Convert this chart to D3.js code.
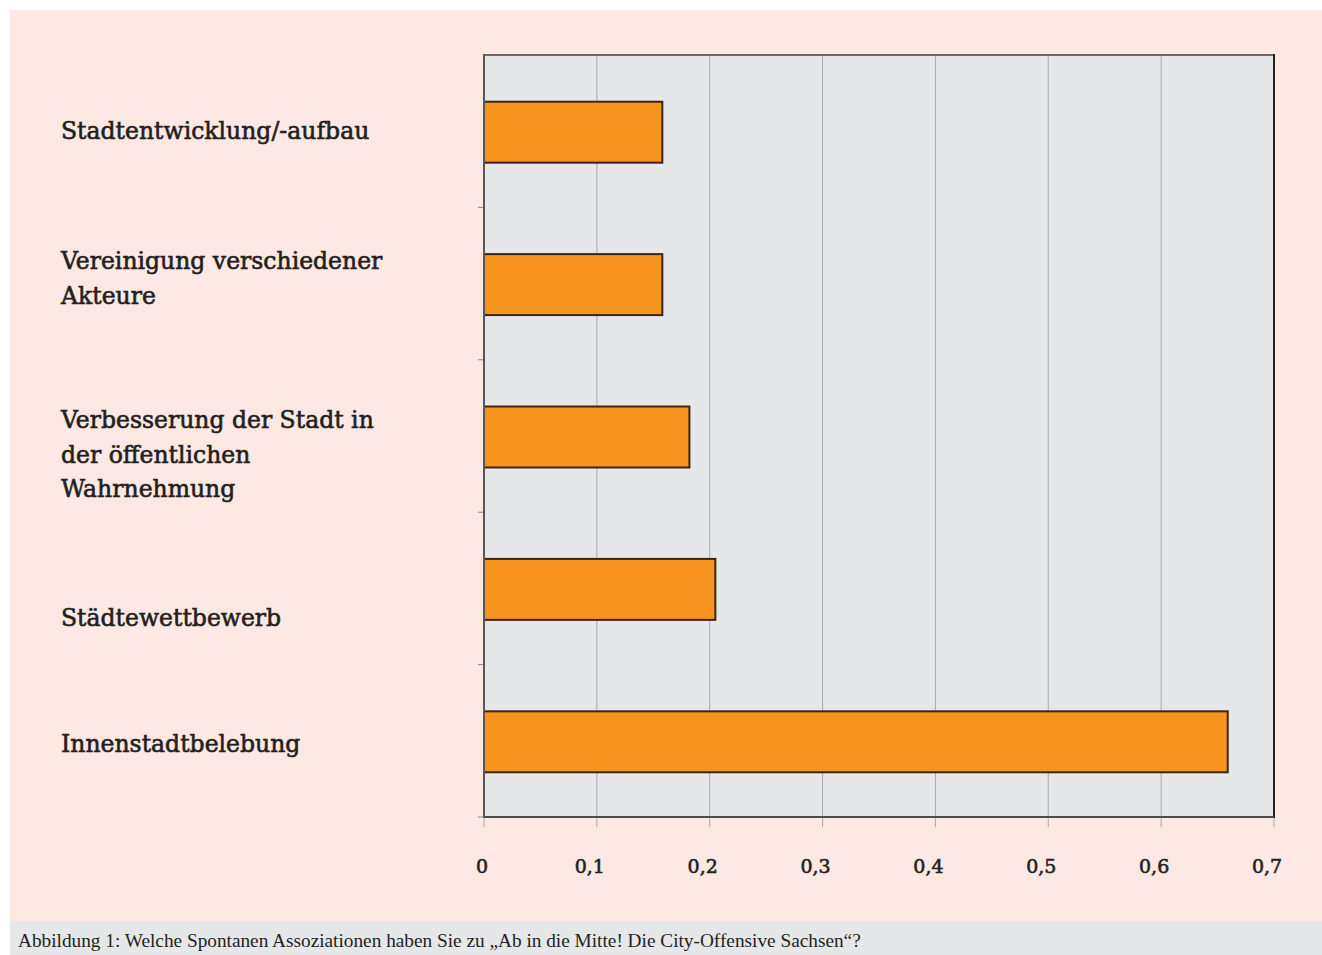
<!DOCTYPE html>
<html><head><meta charset="utf-8">
<script src="https://cdn.jsdelivr.net/npm/d3@7"></script>
<style>
html,body{margin:0;padding:0;background:#fff;}
svg{display:block;}
</style></head>
<body>
<svg id="chart" width="1322" height="955"></svg>
<script>
// ---- data ----
const categories = [
  "Stadtentwicklung/-aufbau",
  "Vereinigung verschiedener Akteure",
  "Verbesserung der Stadt in der öffentlichen Wahrnehmung",
  "Städtewettbewerb",
  "Innenstadtbelebung"
];
const categoryLines = [
  ["Stadtentwicklung/-aufbau"],
  ["Vereinigung verschiedener", "Akteure"],
  ["Verbesserung der Stadt in", "der öffentlichen", "Wahrnehmung"],
  ["Städtewettbewerb"],
  ["Innenstadtbelebung"]
];
const values = [0.158, 0.158, 0.182, 0.205, 0.659];
const xTicks = [0, 0.1, 0.2, 0.3, 0.4, 0.5, 0.6, 0.7];
const tickLabels = ["0", "0,1", "0,2", "0,3", "0,4", "0,5", "0,6", "0,7"];
const caption = "Abbildung 1: Welche Spontanen Assoziationen haben Sie zu „Ab in die Mitte! Die City-Offensive Sachsen“?";

// ---- layout ----
const W = 1322, H = 955;
const plot = {left: 484, right: 1274, top: 55, bottom: 817};
const labelX = 61;
const labelLineH = 34.5;
const labelDy = [8, -14.6, -8, 37.6, 11]; // first baseline offset from band centre
const labelFont = "'DejaVu Serif', serif";

const svg = d3.select("#chart");

// backgrounds
svg.append("rect").attr("x", 10).attr("y", 10).attr("width", W - 10).attr("height", 911).attr("fill", "#fde8e3");
svg.append("rect").attr("x", 10).attr("y", 921).attr("width", W - 10).attr("height", H - 921).attr("fill", "#e6e7e9");

const x = d3.scaleLinear().domain([0, 0.7]).range([plot.left, plot.right]);
const y = d3.scaleBand().domain(categories).range([plot.top, plot.bottom]).padding(0);
const barH = y.bandwidth() * 0.4;

// plot background
svg.append("rect").attr("x", plot.left).attr("y", plot.top)
  .attr("width", plot.right - plot.left).attr("height", plot.bottom - plot.top)
  .attr("fill", "#e6e7e9");

// gridlines
svg.append("g").selectAll("line").data(xTicks.slice(1, -1)).join("line")
  .attr("x1", d => x(d)).attr("x2", d => x(d))
  .attr("y1", plot.top).attr("y2", plot.bottom)
  .attr("stroke", "#a9a9ab").attr("stroke-width", 1);

// bottom ticks
svg.append("g").selectAll("line").data(xTicks).join("line")
  .attr("x1", d => x(d)).attr("x2", d => x(d))
  .attr("y1", plot.bottom).attr("y2", plot.bottom + 10)
  .attr("stroke", "#a9a9ab").attr("stroke-width", 1);

// left ticks at band boundaries
const bounds = categories.map(c => y(c)).slice(1).concat([plot.bottom]);
svg.append("g").selectAll("line").data(bounds).join("line")
  .attr("x1", plot.left - 6).attr("x2", plot.left)
  .attr("y1", d => d).attr("y2", d => d)
  .attr("stroke", "#8d8d8f").attr("stroke-width", 1);

// bars
svg.append("g").selectAll("rect").data(categories).join("rect")
  .attr("x", x(0))
  .attr("y", d => y(d) + (y.bandwidth() - barH) / 2 + 1)
  .attr("width", (d, i) => x(values[i]) - x(0))
  .attr("height", barH)
  .attr("fill", "#f7941e")
  .attr("stroke", "#3b2516").attr("stroke-width", 2);

// plot frame
svg.append("line").attr("x1", plot.left).attr("x2", plot.right).attr("y1", plot.top).attr("y2", plot.top)
  .attr("stroke", "#6e6a6a").attr("stroke-width", 2);
svg.append("line").attr("x1", plot.right).attr("x2", plot.right).attr("y1", plot.top - 1).attr("y2", plot.bottom + 1)
  .attr("stroke", "#231f20").attr("stroke-width", 2);
svg.append("line").attr("x1", plot.left).attr("x2", plot.right).attr("y1", plot.bottom).attr("y2", plot.bottom)
  .attr("stroke", "#4f4b4b").attr("stroke-width", 2);
svg.append("line").attr("x1", plot.left).attr("x2", plot.left).attr("y1", plot.top - 1).attr("y2", plot.bottom + 1)
  .attr("stroke", "#5a5656").attr("stroke-width", 2);

// tick labels
svg.append("g").selectAll("text").data(xTicks).join("text")
  .attr("x", (d, i) => x(d) + (i === 0 ? -2 : -7))
  .attr("y", 873)
  .attr("text-anchor", "middle")
  .attr("font-family", labelFont)
  .attr("font-size", 19)
  .attr("fill", "#231f20")
  .attr("stroke", "#231f20").attr("stroke-width", 0.6)
  .text((d, i) => tickLabels[i]);

// category labels
const lg = svg.append("g");
categories.forEach((c, i) => {
  const t = lg.append("text")
    .attr("x", labelX)
    .attr("y", y(c) + y.bandwidth() / 2 + labelDy[i])
    .attr("font-family", labelFont)
    .attr("font-size", 23.5)
    .attr("fill", "#231f20")
    .attr("stroke", "#231f20").attr("stroke-width", 0.6);
  categoryLines[i].forEach((ln, j) => {
    t.append("tspan").attr("x", labelX).attr("dy", j === 0 ? 0 : labelLineH).text(ln);
  });
});

// caption
svg.append("text").attr("x", 18).attr("y", 947)
  .attr("font-family", "'Liberation Serif', serif")
  .attr("font-size", 19.3)
  .attr("fill", "#231f20")
  .text(caption);
</script>
</body></html>
